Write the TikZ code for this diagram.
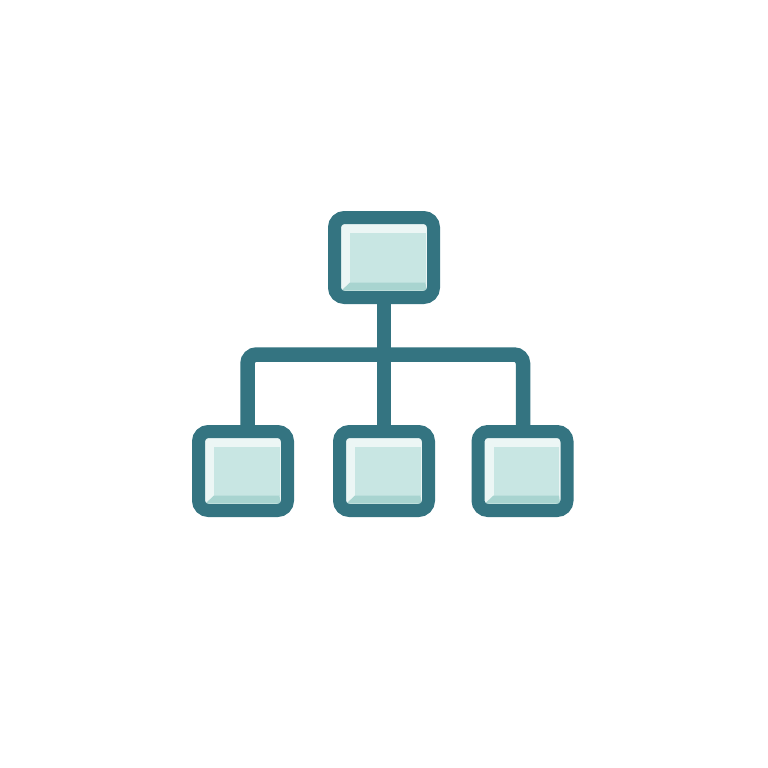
\documentclass[tikz,border=0pt]{standalone}
\usetikzlibrary{backgrounds}
\definecolor{tealline}{RGB}{52,116,129}
\definecolor{facecol}{RGB}{200,230,227}
\definecolor{lightcol}{RGB}{236,246,245}
\definecolor{darkcol}{RGB}{168,212,208}
\tikzset{
  box/.style={draw=tealline, line width=13pt, rounded corners=10pt, fill=lightcol,
    inner sep=0pt, minimum width=89pt, minimum height=79pt,
    path picture={
      \fill[facecol, sharp corners] ([shift={(15.5pt,-15.5pt)}]path picture bounding box.north west)
        rectangle ([shift={(-8pt,15pt)}]path picture bounding box.south east);
      \fill[darkcol, sharp corners] ([shift={(7pt,7pt)}]path picture bounding box.south west)
        -- ([shift={(15.5pt,15pt)}]path picture bounding box.south west)
        -- ([shift={(-8pt,15pt)}]path picture bounding box.south east)
        -- ([shift={(-7pt,7pt)}]path picture bounding box.south east) -- cycle;
    }},
  conn/.style={draw=tealline, line width=14.5pt, rounded corners=9pt}
}
\begin{document}
\begin{tikzpicture}[x=1pt,y=-1pt]
\useasboundingbox (0,0) rectangle (768,768);
\node[box, minimum width=99pt, minimum height=80pt] (top) at (384,257.5) {};
\node[box] (l) at (243,471) {};
\node[box] (m) at (384,471) {};
\node[box] (r) at (522.5,471) {};
\coordinate (vl) at (247.5,354.5);
\coordinate (vr) at (523,354.5);
\begin{scope}[on background layer]
\fill[white] (0,0) rectangle (768,768);
\draw[conn] (vl |- l.center) -- (vl) -- (vr) -- (vr |- r.center);
\draw[conn] (top.center) -- (m.center);
\end{scope}
\end{tikzpicture}
\end{document}
